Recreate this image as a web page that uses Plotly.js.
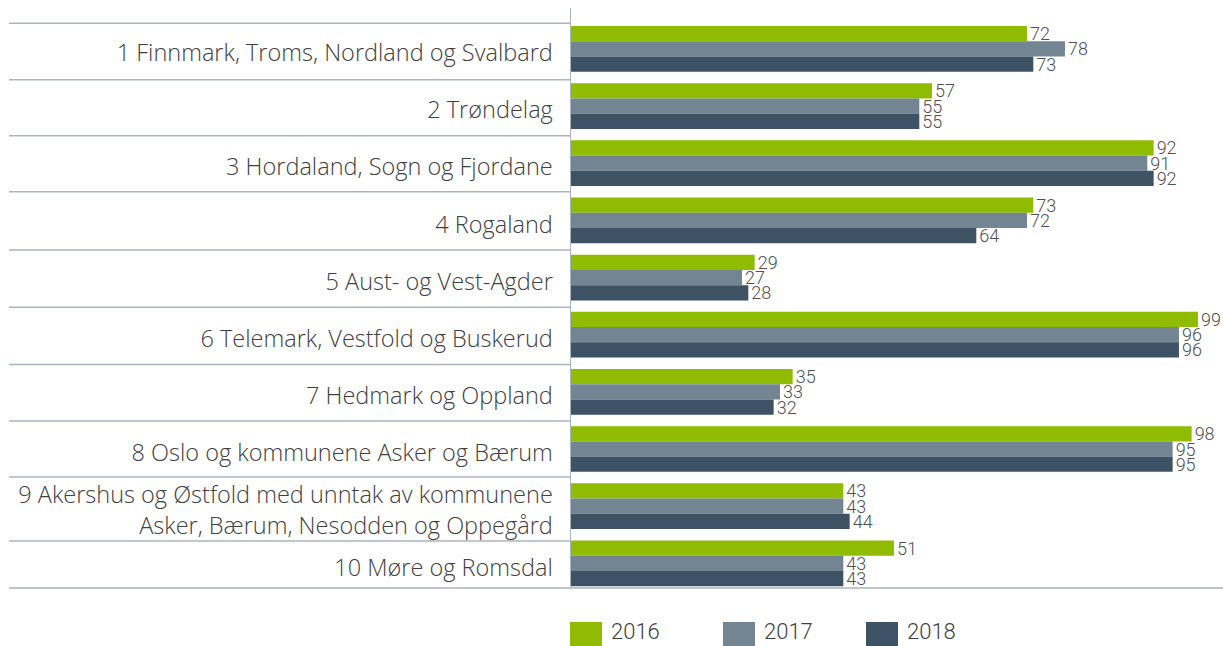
<!DOCTYPE html>
<html>
<head>
<meta charset="utf-8">
<script src="https://cdn.plot.ly/plotly-3.0.1.min.js"></script>
<style>
html,body{margin:0;padding:0;background:#fff;}
#chart{width:1223px;height:646px;}
</style>
</head>
<body>
<div id="chart"></div>
<script>
// ---- data ----
const categories = [
  "1 Finnmark, Troms, Nordland og Svalbard",
  "2 Trøndelag",
  "3 Hordaland, Sogn og Fjordane",
  "4 Rogaland",
  "5 Aust- og Vest-Agder",
  "6 Telemark, Vestfold og Buskerud",
  "7 Hedmark og Oppland",
  "8 Oslo og kommunene Asker og Bærum",
  "9 Akershus og Østfold med unntak av kommunene<br>Asker, Bærum, Nesodden og Oppegård",
  "10 Møre og Romsdal"
];
const seriesNames = ["2016", "2017", "2018"];
const values2016 = [72, 57, 92, 73, 29, 99, 35, 98, 43, 51];
const values2017 = [78, 55, 91, 72, 27, 96, 33, 95, 43, 43];
const values2018 = [73, 55, 92, 64, 28, 96, 32, 95, 44, 43];
const seriesValues = [values2016, values2017, values2018];
const seriesColors = ["#8fbc00", "#738593", "#3e5265"];

// row separator positions (category units)
const separators = [-0.45, 0.54, 1.52, 2.5, 3.52, 4.52, 5.52, 6.51, 7.49, 8.61];

const FONT = "Roboto, 'Open Sans', sans-serif";
const LABEL_FONT = "'Open Sans', Roboto, sans-serif";
const TEXT_COLOR = "#404040";
const LINE_COLOR = "#a9b5c0";

const traces = seriesNames.map((name, i) => ({
  type: "bar",
  orientation: "h",
  name: name,
  y: categories,
  x: seriesValues[i],
  marker: {color: seriesColors[i], line: {width: 0}},
  text: seriesValues[i].map(String),
  textposition: "outside",
  constraintext: "none",
  cliponaxis: false,
  textfont: {family: FONT, size: 18, color: "#505050", weight: 300},
  hoverinfo: "x+y",
  showlegend: false
}));

const W = 1223, H = 646;
const ML = 571, MR = 0, MT = 8, MB = 58;
const plotW = W - ML - MR, plotH = H - MT - MB;
const pxToPaperX = px => (px - ML) / plotW;
const pxToPaperY = py => (H - MB - py) / plotH;

const shapes = [];
// separators in the label area
separators.forEach(s => {
  shapes.push({type: "line", xref: "paper", yref: "y",
    x0: pxToPaperX(9), x1: 0, y0: s, y1: s,
    line: {color: LINE_COLOR, width: 1.5}});
});
// bottom line
shapes.push({type: "line", xref: "paper", yref: "paper",
  x0: pxToPaperX(9), x1: 1, y0: 0, y1: 0,
  line: {color: LINE_COLOR, width: 1.5}});

// custom legend
const annotations = [];
const legendX = [570, 723, 866];
seriesNames.forEach((name, i) => {
  shapes.push({type: "rect", xref: "paper", yref: "paper",
    x0: pxToPaperX(legendX[i]), x1: pxToPaperX(legendX[i] + 32),
    y0: pxToPaperY(646), y1: pxToPaperY(622),
    fillcolor: seriesColors[i], line: {width: 0}});
  annotations.push({xref: "paper", yref: "paper",
    x: pxToPaperX(legendX[i] + 39), y: pxToPaperY(631),
    xanchor: "left", yanchor: "middle", showarrow: false,
    text: name, font: {family: FONT, size: 22, color: TEXT_COLOR, weight: 300}});
});

const layout = {
  width: W, height: H,
  margin: {l: ML, r: MR, t: MT, b: MB, pad: 0},
  paper_bgcolor: "#ffffff",
  plot_bgcolor: "#ffffff",
  barmode: "group",
  bargap: 0.2,
  bargroupgap: 0,
  showlegend: false,
  font: {family: FONT, color: TEXT_COLOR},
  xaxis: {
    range: [0, plotW / 6.333],
    showgrid: false, zeroline: false, showline: false,
    showticklabels: false, ticks: ""
  },
  yaxis: {
    type: "category",
    range: [9.432, -0.716],
    showgrid: false, zeroline: false,
    showline: true, linecolor: LINE_COLOR, linewidth: 1.5,
    ticks: "",
    ticklabelstandoff: 12,
    ticklabelshift: -4,
    tickfont: {family: LABEL_FONT, size: 23.5, color: TEXT_COLOR, weight: 300}
  },
  shapes: shapes,
  annotations: annotations
};

Plotly.newPlot("chart", traces, layout, {displayModeBar: false, staticPlot: true});
</script>
</body>
</html>
